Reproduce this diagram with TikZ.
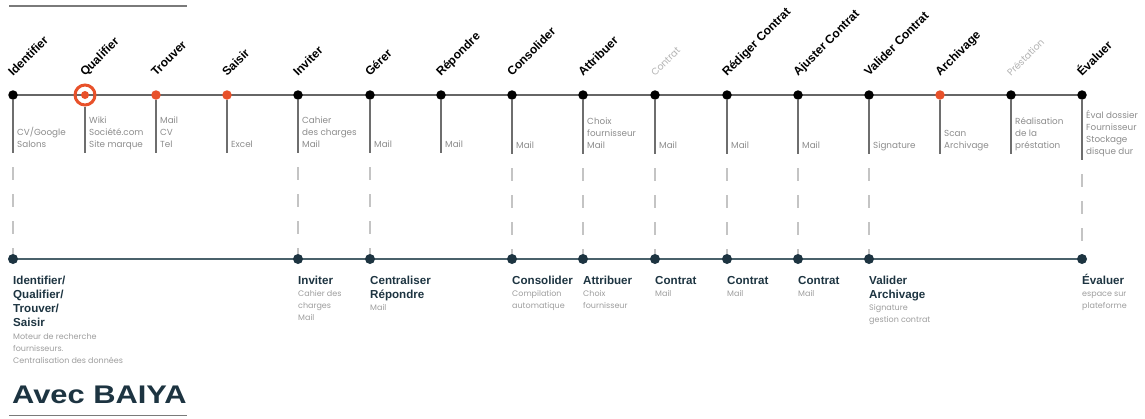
\documentclass[tikz,border=0pt]{standalone}
\usepackage{fontspec}
\usepackage{graphicx}
\setmainfont{Liberation Sans}
\newfontfamily\thinfont{Poppins}
\usetikzlibrary{backgrounds}
\definecolor{orng}{HTML}{E8512A}
\definecolor{navy}{HTML}{1D3441}
\definecolor{notegray}{HTML}{8C8C8C}
\definecolor{stemgray}{HTML}{6E6E6E}
\definecolor{dashgray}{HTML}{C4C4C4}
\definecolor{linegray}{HTML}{666666}
\definecolor{paleg}{HTML}{B2B2B2}
\definecolor{bline}{HTML}{4A616B}
\definecolor{rulegray}{HTML}{7A7A7A}

\newcommand\TopStep[7]{% id, x, dot style, label style, label, note, stem end y
  \node[#3] (t#1) at (#2,95) {};
  \node[#4] (h#1) at (#2,77) {#5};
  \coordinate (e#1) at (#2,#7);
  \node[note] (n#1) at (#2+4,#7-1.5) {#6\strut};
  \draw[stem] (t#1) -- (e#1);
}
\newcommand\BotStep[5]{% id, x, bold text, gray first baseline, gray text
  \node[bdot] (b#1) at (#2,259) {};
  \node[blabel] (l#1) at (#2,274.2) {\strut #3};
  \node[gnote] (g#1) at (#2,#4-8.4) {\strut #5};
  \draw[dashline] (e#1) -- (b#1);
}

\begin{document}
\begin{tikzpicture}[x=1pt,y=-1pt,
  dot/.style={circle,fill=black,inner sep=0,minimum size=9.5pt},
  odot/.style={circle,fill=orng,inner sep=0,minimum size=9.5pt},
  ring/.style={circle,draw=orng,line width=3pt,inner sep=0,minimum size=20pt},
  bdot/.style={circle,fill=navy,inner sep=0,minimum size=10pt},
  toplabel/.style={rotate=45,anchor=base west,inner sep=0,
    font=\bfseries\fontsize{12}{13}\selectfont,text=black},
  palelabel/.style={rotate=45,anchor=base west,inner sep=0,
    font=\thinfont\fontsize{9.5}{12}\selectfont,text=paleg},
  note/.style={anchor=south west,inner sep=0,align=left,
    font=\thinfont\fontsize{8.8}{12}\selectfont,text=notegray},
  stem/.style={draw=stemgray,line width=1.4pt},
  dashline/.style={draw=dashgray,line width=1.1pt,
    dash pattern=on 13pt off 14pt,dash phase=13pt},
  blabel/.style={anchor=north west,inner sep=0,align=left,
    font=\bfseries\fontsize{11.6}{14}\selectfont,text=navy},
  gnote/.style={anchor=north west,inner sep=0,align=left,
    font=\thinfont\fontsize{8}{12}\selectfont,text=notegray!85},
  topline/.style={draw=linegray,line width=1.8pt},
  botline/.style={draw=bline,line width=1.8pt},
  rulestyle/.style={draw=rulegray,line width=1.6pt},
  titlestyle/.style={anchor=base west,inner sep=0,text=navy,
    font=\bfseries\fontsize{25.5}{28}\selectfont}
]
\useasboundingbox (0,0) rectangle (1145,418);

% top timeline
\TopStep{1}{13}{dot}{toplabel}{Identifier}{CV/Google\\Salons}{153}
% Qualifier with ring
\node[ring] (t2) at (85,95) {};
\node[odot,minimum size=8pt] (t2c) at (t2.center) {};
\node[toplabel] (h2) at (85,77) {Qualifier};
\coordinate (e2) at (85,153);
\node[note] (n2) at (89,151.5) {Wiki\\Société.com\\Site marque\strut};
\draw[stem] (t2) -- (e2);
\TopStep{3}{156}{odot}{toplabel}{Trouver}{Mail\\CV\\Tel}{153}
\TopStep{4}{227}{odot}{toplabel}{Saisir}{Excel}{153}
\TopStep{5}{298}{dot}{toplabel}{Inviter}{Cahier\\des charges\\Mail}{153}
\TopStep{6}{370}{dot}{toplabel}{Gérer}{Mail}{153}
\TopStep{7}{441}{dot}{toplabel}{Répondre}{Mail}{153}
\TopStep{8}{512}{dot}{toplabel}{Consolider}{Mail}{154}
\TopStep{9}{583}{dot}{toplabel}{Attribuer}{Choix\\fournisseur\\Mail}{154}
\TopStep{10}{655}{dot}{palelabel}{Contrat}{Mail}{154}
\TopStep{11}{727}{dot}{toplabel}{Rédiger Contrat}{Mail}{154}
\TopStep{12}{798}{dot}{toplabel}{Ajuster Contrat}{Mail}{154}
\TopStep{13}{869}{dot}{toplabel}{Valider Contrat}{Signature}{154}
\TopStep{14}{940}{odot}{toplabel}{Archivage}{Scan\\Archivage}{154}
\TopStep{15}{1011}{dot}{palelabel}{Préstation}{Réalisation\\de la\\préstation}{154}
\TopStep{16}{1082}{dot}{toplabel}{Évaluer}{Éval dossier\\Fournisseur\\Stockage\\disque dur}{160}

% bottom timeline
\BotStep{1}{13}{Identifier/\\Qualifier/\\Trouver/\\Saisir}{339}{Moteur de recherche\\fournisseurs.\\Centralisation des données}
\BotStep{5}{298}{Inviter}{296}{Cahier des\\charges\\Mail}
\BotStep{6}{370}{Centraliser\\Répondre}{310}{Mail}
\BotStep{8}{512}{Consolider}{296}{Compilation\\automatique}
\BotStep{9}{583}{Attribuer}{296}{Choix\\fournisseur}
\BotStep{10}{655}{Contrat}{296}{Mail}
\BotStep{11}{727}{Contrat}{296}{Mail}
\BotStep{12}{798}{Contrat}{296}{Mail}
\BotStep{13}{869}{Valider\\Archivage}{310}{Signature\\gestion contrat}
\BotStep{16}{1082}{Évaluer}{296}{espace sur\\plateforme}

% title
\node[titlestyle] (title) at (12,403) {\scalebox{1.21}[1]{Avec BAIYA}};
\coordinate (r1) at (9,6);
\coordinate (r2) at (187,6);
\coordinate (r3) at (9,415.5);
\coordinate (r4) at (187,415.5);

\begin{scope}[on background layer]
  \draw[topline] (t1.center) -- (t16.center);
  \draw[botline] (b1.center) -- (b16.center);
  \draw[rulestyle] (r1) -- (r2);
  \draw[rulestyle] (r3) -- (r4);
\end{scope}
\end{tikzpicture}
\end{document}
